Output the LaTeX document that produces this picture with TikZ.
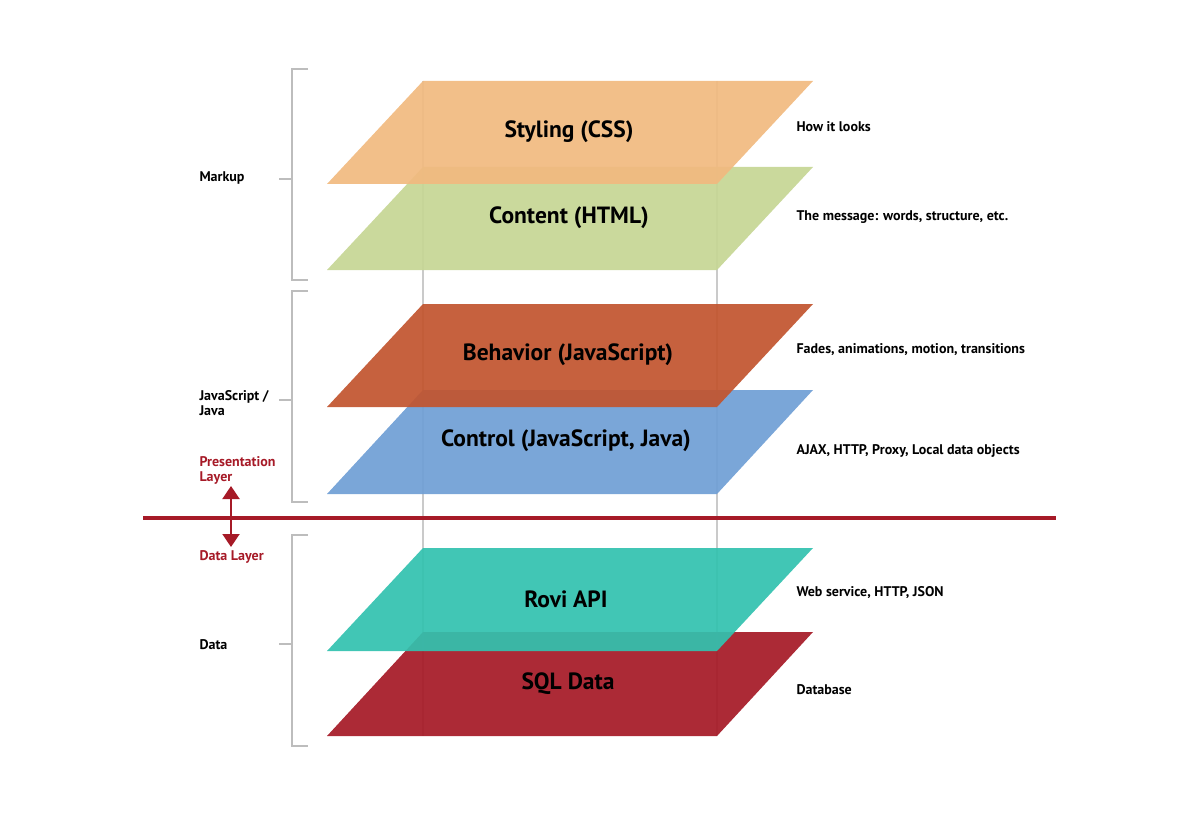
\documentclass[tikz,border=0pt]{standalone}
\usepackage{fontspec}
\setmainfont{PT Sans}
\usetikzlibrary{arrows.meta}

\definecolor{cssorange}{HTML}{F1BA80}
\definecolor{htmlgreen}{HTML}{C6D695}
\definecolor{jsbrown}{HTML}{C2552F}
\definecolor{ctrlblue}{HTML}{709FD5}
\definecolor{apiteal}{HTML}{33C2AF}
\definecolor{sqlred}{HTML}{A61A27}
\definecolor{rulegray}{HTML}{BDBDBD}

\begin{document}
\begin{tikzpicture}[x=1pt,y=-1pt,
  layer/.style={fill opacity=0.93},
  title/.style={font=\fontsize{23.5}{28}\selectfont\bfseries},
  note/.style={anchor=west,align=left,font=\fontsize{14}{15}\selectfont\bfseries},
  brace/.style={draw=rulegray,line width=2pt},
  post/.style={draw=rulegray!80,line width=2pt}]
\useasboundingbox (0,0) rectangle (1200,840);
% posts through the stack
\draw[post] (423,81) -- (423,736);
\draw[post] (717,81) -- (717,736);
% markup
\fill[layer,htmlgreen] (423,167) -- (813,167) -- (717,270) -- (327,270) -- cycle;
\fill[layer,cssorange] (423,81) -- (813,81) -- (717,184) -- (327,184) -- cycle;
% javascript
\fill[layer,ctrlblue] (423,390) -- (813,390) -- (717,494) -- (327,494) -- cycle;
\fill[layer,jsbrown] (423,304) -- (813,304) -- (717,407) -- (327,407) -- cycle;
% data
\fill[layer,sqlred] (423,632) -- (813,632) -- (717,736) -- (327,736) -- cycle;
\fill[layer,apiteal] (423,548) -- (813,548) -- (717,651) -- (327,651) -- cycle;
% layer titles
\node[title] (css) at (569,132) {Styling (CSS)};
\node[title] (html) at (569,218) {Content (HTML)};
\node[title] (js) at (568,355) {Behavior (JavaScript)};
\node[title] (ctrl) at (566,441) {Control (JavaScript, Java)};
\node[title] (api) at (566,599) {Rovi API};
\node[title] (sql) at (568,684) {SQL Data};
% notes on the right
\node[note] (looks) at (793,127) {How it looks};
\node[note] (msg) at (793,217) {The message: words, structure, etc.};
\node[note] (fades) at (793,350) {Fades, animations, motion, transitions};
\node[note] (ajax) at (793,451) {AJAX, HTTP, Proxy, Local data objects};
\node[note] (web) at (793,593) {Web service, HTTP, JSON};
\node[note] (db) at (793,690) {Database};
% brackets on the left
\draw[brace] (308,69) -- (292,69) -- (292,280) -- (308,280) (292,179) -- (279,179);
\draw[brace] (308,291) -- (292,291) -- (292,502) -- (308,502) (292,400) -- (279,400);
\draw[brace] (308,535) -- (292,535) -- (292,746) -- (308,746) (292,644) -- (279,644);
\node[note] (markup) at (196,178) {Markup};
\node[note] (jsjava) at (196,403) {JavaScript /\\Java};
\node[note] (data) at (196,645) {Data};
% presentation / data split
\node[note,text=sqlred] (pres) at (196,470) {Presentation\\Layer};
\node[note,text=sqlred] (dlayer) at (196,557) {Data Layer};
\coordinate (left) at (143,518);
\coordinate (right) at (1056,518);
\draw[sqlred,line width=3.5pt] (left) -- (right);
\coordinate (up) at (231,486);
\coordinate (down) at (231,547);
\draw[sqlred,line width=2pt,{Triangle[width=17pt,length=13pt]}-{Triangle[width=17pt,length=13pt]}] (up) -- (down);
\end{tikzpicture}
\end{document}
